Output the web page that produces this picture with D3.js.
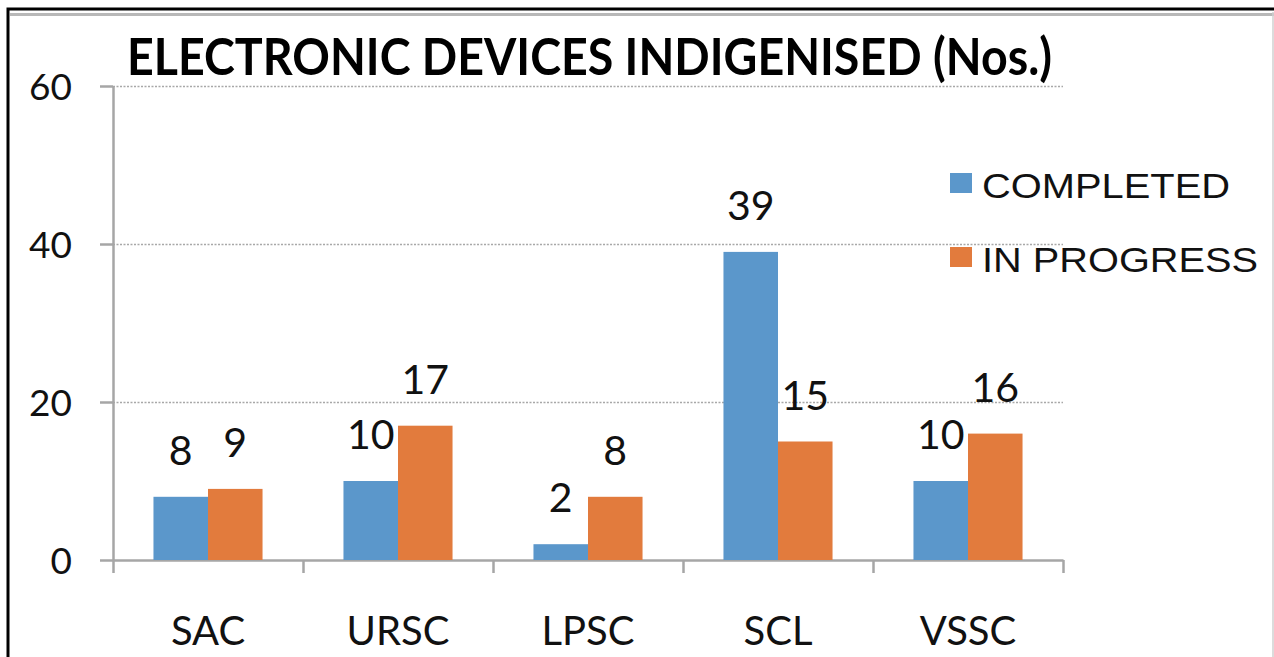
<!DOCTYPE html>
<html>
<head>
<meta charset="utf-8">
<script src="https://cdn.jsdelivr.net/npm/d3@7"></script>
<style>
  html, body { margin: 0; padding: 0; background: #ffffff; }
  svg { display: block; }
</style>
</head>
<body>
<svg id="chart" width="1274" height="657"></svg>
<script>
const categories = ["SAC", "URSC", "LPSC", "SCL", "VSSC"];
const seriesNames = ["COMPLETED", "IN PROGRESS"];
const completed = [8, 10, 2, 39, 10];
const inProgress = [9, 17, 8, 15, 16];
const yTicks = [0, 20, 40, 60];
const gridTicks = [20, 40, 60];
const titleText = "ELECTRONIC DEVICES INDIGENISED (Nos.)";

const colors = { "COMPLETED": "#5b97cb", "IN PROGRESS": "#e27b3d" };
const seriesValues = { "COMPLETED": completed, "IN PROGRESS": inProgress };

const svg = d3.select("#chart");
const plotLeft = 113, plotRight = 1063, plotTop = 86, plotBottom = 560;

// frame
svg.append("rect").attr("x", 8).attr("y", 9).attr("width", 1300).attr("height", 700)
  .attr("fill", "none").attr("stroke", "#000").attr("stroke-width", 3);
svg.append("line").attr("x1", 10).attr("x2", 1274).attr("y1", 14.5).attr("y2", 14.5)
  .attr("stroke", "#b8b8b8").attr("stroke-width", 3);
svg.append("line").attr("x1", 1273).attr("x2", 1273).attr("y1", 12).attr("y2", 657)
  .attr("stroke", "#d0d0d0").attr("stroke-width", 1.5);

const x0 = d3.scaleBand().domain(categories).range([plotLeft, plotRight])
  .paddingInner(0.426).paddingOuter(0.213);
const x1 = d3.scaleBand().domain(seriesNames).range([0, x0.bandwidth()]).padding(0);
const y = d3.scaleLinear().domain([0, 60]).range([plotBottom, plotTop]);

// gridlines
const grid = svg.append("g").attr("transform", `translate(${plotLeft},0)`)
  .call(d3.axisLeft(y).tickValues(gridTicks).tickSize(-(plotRight - plotLeft)).tickFormat(""));
grid.select(".domain").remove();
grid.selectAll("line").attr("stroke", "#a8a8a8").attr("stroke-width", 1.5)
  .attr("stroke-dasharray", "2,1.5");

// y axis
const yAxis = svg.append("g").attr("transform", `translate(${plotLeft},0)`)
  .call(d3.axisLeft(y).tickValues(yTicks).tickSize(13).tickSizeOuter(0).tickPadding(28));
yAxis.select(".domain").attr("stroke", "#a6a6a6").attr("stroke-width", 2.5);
yAxis.selectAll(".tick line").attr("stroke", "#a6a6a6").attr("stroke-width", 2.5);
yAxis.selectAll(".tick text").attr("font-family", "Lato, 'Open Sans', sans-serif")
  .attr("font-size", 37).attr("fill", "#111").attr("dy", "0.36em");

// x axis: ticks at category boundaries
const boundaries = d3.range(categories.length + 1);
const xb = d3.scaleLinear().domain([0, categories.length]).range([plotLeft, plotRight]);
const xAxis = svg.append("g").attr("transform", `translate(0,${plotBottom})`)
  .call(d3.axisBottom(xb).tickValues(boundaries).tickSize(13).tickSizeOuter(0).tickFormat(""));
xAxis.select(".domain").attr("stroke", "#a6a6a6").attr("stroke-width", 2.5);
xAxis.selectAll(".tick line").attr("stroke", "#a6a6a6").attr("stroke-width", 2.5);

// category labels
svg.append("g").selectAll("text").data(categories).join("text")
  .attr("x", d => x0(d) + x0.bandwidth() / 2)
  .attr("y", 645)
  .attr("text-anchor", "middle")
  .attr("font-family", "Lato, 'Open Sans', sans-serif")
  .attr("font-size", 40).attr("fill", "#111")
  .text(d => d);

// bars
const groups = svg.append("g").selectAll("g").data(categories).join("g")
  .attr("transform", d => `translate(${x0(d)},0)`);
groups.selectAll("rect")
  .data((d, i) => seriesNames.map(s => ({ s, v: seriesValues[s][i] })))
  .join("rect")
  .attr("x", d => x1(d.s))
  .attr("y", d => y(d.v))
  .attr("width", x1.bandwidth())
  .attr("height", d => y(0) - y(d.v))
  .attr("fill", d => colors[d.s]);
groups.selectAll("text")
  .data((d, i) => seriesNames.map(s => ({ s, v: seriesValues[s][i] })))
  .join("text")
  .attr("x", d => x1(d.s) + x1.bandwidth() / 2)
  .attr("y", d => y(d.v) - 32)
  .attr("text-anchor", "middle")
  .attr("font-family", "Lato, 'Open Sans', sans-serif")
  .attr("font-size", 41).attr("fill", "#111")
  .text(d => d.v);

// title
svg.append("text").attr("x", 127).attr("y", 75)
  .attr("font-family", "Lato, 'Open Sans', sans-serif")
  .attr("font-weight", 700).attr("font-size", 52).attr("fill", "#000")
  .attr("textLength", 925).attr("lengthAdjust", "spacingAndGlyphs")
  .text(titleText);

// legend
const legendY = [173, 247];
const legendW = [248, 276];
const legend = svg.append("g").selectAll("g").data(seriesNames).join("g")
  .attr("transform", (d, i) => `translate(950,${legendY[i]})`);
legend.append("rect").attr("width", 22).attr("height", 20).attr("fill", d => colors[d]);
legend.append("text").attr("x", 32).attr("y", 25)
  .attr("font-family", "'Liberation Sans', Arial, sans-serif")
  .attr("font-size", 35).attr("fill", "#111")
  .attr("textLength", (d, i) => legendW[i]).attr("lengthAdjust", "spacingAndGlyphs")
  .text(d => d);
</script>
</body>
</html>
